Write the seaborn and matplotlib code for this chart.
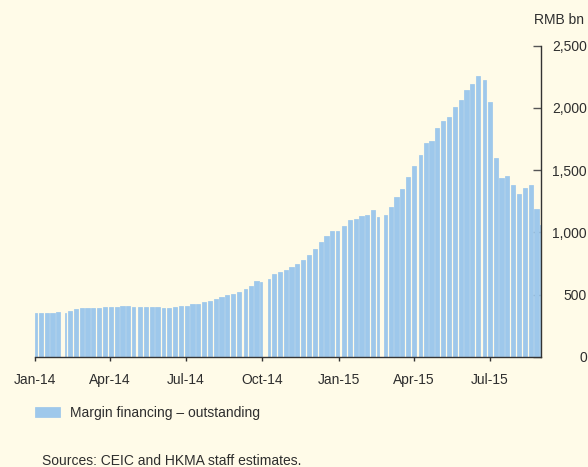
import numpy as np
import pandas as pd
import matplotlib
matplotlib.use("Agg")
import matplotlib.pyplot as plt
import seaborn as sns

# ---------------- data ----------------
week_start = pd.date_range("2013-12-30", "2015-08-31", freq="W-MON")  # weekly blocks
margin_fin = [
    # 2014
    350, 351, 353, 356, 359, 352, 372, 388, 391, 392, 393, 392, 398,
    399, 401, 409, 410, 403, 400, 400, 400, 398, 395, 395, 400, 407,
    412, 422, 428, 440, 452, 468, 482, 497, 508, 525, 545, 570, 612,
    605, 628, 666, 682, 698, 725, 744, 775, 815, 865, 926, 970, 1008,
    1012,
    # 2015
    1050, 1100, 1105, 1132, 1138, 1178, 1125, 1140, 1205, 1285, 1350,
    1445, 1530, 1620, 1720, 1735, 1835, 1895, 1925, 2010, 2065, 2140,
    2195, 2258, 2225, 2050, 1600, 1435, 1450, 1380, 1312, 1360, 1380,
    1190, 1060,
]
holidays = pd.to_datetime([
    "2014-01-01", "2014-01-31", "2014-02-03", "2014-02-04", "2014-02-05",
    "2014-02-06", "2014-04-07", "2014-05-01", "2014-05-02", "2014-06-02",
    "2014-09-08", "2014-10-01", "2014-10-02", "2014-10-03", "2014-10-06",
    "2014-10-07", "2015-01-01", "2015-01-02", "2015-02-18", "2015-02-19",
    "2015-02-20", "2015-02-23", "2015-02-24", "2015-04-06", "2015-05-01",
    "2015-06-22",
])
data_start = pd.Timestamp("2014-01-02")
data_end = pd.Timestamp("2015-08-31")
tick_dates = pd.to_datetime(["2014-01-01", "2014-04-01", "2014-07-01", "2014-10-01",
                             "2015-01-01", "2015-04-01", "2015-07-01"])
tick_labels = ["Jan-14", "Apr-14", "Jul-14", "Oct-14", "Jan-15", "Apr-15", "Jul-15"]
y_ticks = [0, 500, 1000, 1500, 2000, 2500]
series_name = "Margin financing \u2013 outstanding"
unit_label = "RMB bn"
source_note = "Sources: CEIC and HKMA staff estimates."

# ---------------- build trading-day blocks ----------------
origin = pd.Timestamp("2014-01-01")
edges, mids = [], []
for ws in week_start:
    days = pd.date_range(ws, ws + pd.Timedelta(days=4))
    days = days[(days >= data_start) & (days <= data_end) & (~days.isin(holidays))]
    d = np.asarray((days - origin).days)
    edges += [d.min() - 0.5, d.max() + 0.5]
    mids.append((d.min() + d.max()) / 2)
df = pd.DataFrame({"day": mids, "value": margin_fin, "series": series_name})

# ---------------- style ----------------
bg = "#FFFBE8"
bar_color = "#9EC8EB"
text_color = "#2E2E2E"
sns.set_theme(style="white")
plt.rcParams["font.family"] = ["Liberation Sans", "DejaVu Sans"]
plt.rcParams["font.size"] = 10

fig = plt.figure(figsize=(5.88, 4.67), dpi=100)
fig.patch.set_facecolor(bg)
ax = fig.add_axes([35 / 588, 1 - 357 / 467, 506 / 588, (357 - 45.5) / 467])
ax.set_facecolor(bg)

sns.histplot(data=df, x="day", weights="value", bins=edges, hue="series",
             palette=[bar_color], alpha=1, linewidth=0.55, edgecolor=bar_color,
             element="bars", ax=ax)

ax.set_xlim(0, 607.5)
ax.set_ylim(0, 2500)
ax.set_xlabel("")
ax.set_ylabel("")

# axes / spines
for s in ["left", "top"]:
    ax.spines[s].set_visible(False)
for s in ["right", "bottom"]:
    ax.spines[s].set_visible(True)
    ax.spines[s].set_color("#333333")
    ax.spines[s].set_linewidth(1.0)
    ax.spines[s].set_zorder(5)

ax.set_xticks((tick_dates - origin).days)
ax.set_xticklabels(tick_labels)
ax.tick_params(axis="x", direction="out", length=3, width=1, color="#333333",
               pad=8.5, labelsize=10, labelcolor=text_color, bottom=True)

ax.yaxis.tick_right()
ax.set_yticks(y_ticks)
ax.set_yticklabels([f"{v:,}" for v in y_ticks])
ax.tick_params(axis="y", direction="in", length=5.5, width=1, color="#555555",
               pad=33, labelsize=10, labelcolor=text_color, right=True, left=False)
for lab in ax.get_yticklabels():
    lab.set_horizontalalignment("right")

fig.text(584 / 588, 1 - 20 / 467, unit_label, ha="right", va="center",
         fontsize=10, color=text_color)

sns.move_legend(ax, "center left", bbox_to_anchor=(35 / 588, 1 - 413 / 467),
                bbox_transform=fig.transFigure, title=None, frameon=False,
                handlelength=1.8, handleheight=0.75, handletextpad=0.7,
                borderpad=0, borderaxespad=0, fontsize=10, labelcolor=text_color)

fig.text(42 / 588, 1 - 461 / 467, source_note, ha="left", va="center",
         fontsize=10, color=text_color)

fig.savefig("out.png", dpi=100, facecolor=bg)
